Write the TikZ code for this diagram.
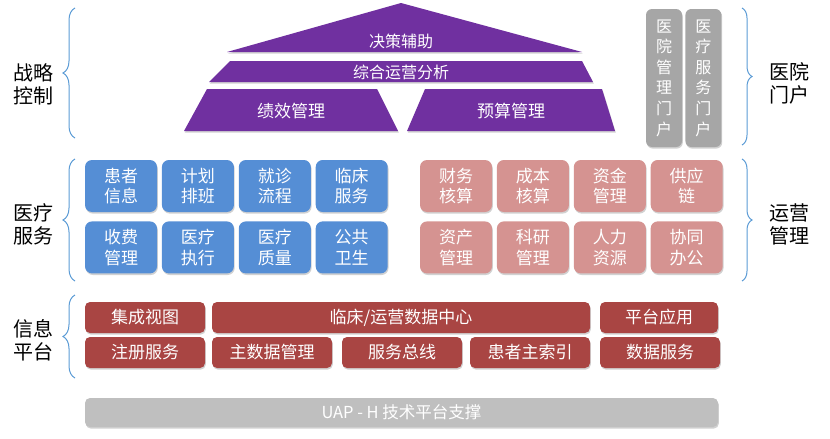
\documentclass[tikz,border=0pt]{standalone}
\usepackage{fontspec}
\setmainfont{Noto Sans CJK SC}
\usetikzlibrary{positioning,shadows,decorations.pathreplacing}
\definecolor{strategypurple}{HTML}{7030A0}
\definecolor{medblue}{HTML}{558ED5}
\definecolor{oppink}{HTML}{D59391}
\definecolor{infored}{HTML}{A94543}
\definecolor{portalgray}{HTML}{A6A6A6}
\definecolor{basegray}{HTML}{BFBFBF}
\definecolor{braceblue}{HTML}{5B9BD5}
\tikzset{
  softshadow/.style={drop shadow={shadow xshift=0.8pt, shadow yshift=-1.6pt, opacity=0.3, fill=black!60}},
  sidelabel/.style={font=\fontsize{20}{23}\selectfont, align=center, text=black},
  sidebrace/.style={draw=braceblue, line width=1pt, decorate, decoration={brace, amplitude=#1}},
  pyrtext/.style={font=\fontsize{16}{19}\selectfont, text=white},
  pyrpart/.style={fill=strategypurple, softshadow},
  tile/.style={
    rectangle, rounded corners=7pt, minimum width=72pt, minimum height=52pt,
    inner sep=0pt, align=center, font=\fontsize{17}{20.5}\selectfont, text=white, softshadow
  },
  medtile/.style={tile, fill=medblue},
  optile/.style={tile, fill=oppink},
  portalbox/.style={
    rectangle, rounded corners=6pt, minimum width=36pt, minimum height=138pt,
    inner sep=0pt, align=center, font=\fontsize{16}{20.6}\selectfont, text=white,
    fill=portalgray, softshadow
  },
  infobar/.style={
    rectangle, rounded corners=5pt, minimum height=31pt, inner sep=0pt,
    font=\fontsize{17}{20}\selectfont, text=white, fill=infored, softshadow
  },
  basebar/.style={
    rectangle, rounded corners=5pt, minimum height=29pt, minimum width=633pt, inner sep=0pt,
    font=\fontsize{16.5}{19}\selectfont, text=white, fill=basegray, softshadow
  }
}

\begin{document}
\begin{tikzpicture}[x=1pt, y=-1pt, node distance=9pt and 4.5pt]
\useasboundingbox (0,0) rectangle (830,439);

% side labels and braces
\node[sidelabel] (strategy) at (33,84) {战略\\控制};
\node[sidelabel] (medical) at (33,224) {医疗\\服务};
\node[sidelabel] (infoplat) at (33,340) {信息\\平台};
\node[sidelabel] (portal) at (789,83) {医院\\门户};
\node[sidelabel] (operation) at (789,224) {运营\\管理};
\draw[sidebrace=12pt] (75,138) -- (75,8);
\draw[sidebrace=12pt] (75,281) -- (75,159);
\draw[sidebrace=12pt] (75,378) -- (75,295);
\draw[sidebrace=10pt] (742,8) -- (742,145);
\draw[sidebrace=10pt] (742,159) -- (742,281);

% strategy pyramid
\fill[pyrpart] (227,52) -- (401,3) -- (582,52) -- cycle;
\fill[pyrpart] (230,61) -- (582,61) -- (593,82) -- (209,82) -- cycle;
\fill[pyrpart] (207,89) -- (377,89) -- (398,131) -- (184,131) -- cycle;
\fill[pyrpart] (425,89) -- (602,89) -- (615,131) -- (407,131) -- cycle;
\node[pyrtext] (decision) at (401,41) {决策辅助};
\node[pyrtext] (analysis) at (401,72) {综合运营分析};
\node[pyrtext, font=\fontsize{17}{20}\selectfont] (perf) at (291,111) {绩效管理};
\node[pyrtext, font=\fontsize{17}{20}\selectfont] (budget) at (511,111) {预算管理};

% portals
\node[portalbox] (mgmtportal) at (664,78) {医\\院\\管\\理\\门\\户};
\node[portalbox, right=3pt of mgmtportal] (svcportal) {医\\疗\\服\\务\\门\\户};

% medical services
\node[medtile] (patient) at (121,186) {患者\\信息};
\node[medtile, right=of patient] (plan) {计划\\排班};
\node[medtile, right=of plan] (visit) {就诊\\流程};
\node[medtile, right=of visit] (clinic) {临床\\服务};
\node[medtile, below=of patient] (fee) {收费\\管理};
\node[medtile, below=of plan] (exec) {医疗\\执行};
\node[medtile, below=of visit] (quality) {医疗\\质量};
\node[medtile, below=of clinic] (health) {公共\\卫生};

% operation management
\node[optile] (finance) at (456,186) {财务\\核算};
\node[optile, right=of finance] (cost) {成本\\核算};
\node[optile, right=of cost] (fund) {资金\\管理};
\node[optile, right=of fund] (supply) {供应\\链};
\node[optile, below=of finance] (asset) {资产\\管理};
\node[optile, below=of cost] (research) {科研\\管理};
\node[optile, below=of fund] (hr) {人力\\资源};
\node[optile, below=of supply] (office) {协同\\办公};

% information platform
\node[infobar, minimum width=120pt] (view) at (145,317.5) {集成视图};
\node[infobar, minimum width=378pt] (datacenter) at (401,317.5) {临床/运营数据中心};
\node[infobar, minimum width=118pt] (platapp) at (659,317.5) {平台应用};
\node[infobar, minimum width=120pt] (register) at (145,352.5) {注册服务};
\node[infobar, minimum width=120pt] (masterdata) at (272,352.5) {主数据管理};
\node[infobar, minimum width=120pt] (bus) at (402,352.5) {服务总线};
\node[infobar, minimum width=120pt] (empi) at (530,352.5) {患者主索引};
\node[infobar, minimum width=120pt] (dataservice) at (660,352.5) {数据服务};

% technical base
\node[basebar] (uap) at (401.5,412.5) {UAP - H 技术平台支撑};
\end{tikzpicture}
\end{document}
